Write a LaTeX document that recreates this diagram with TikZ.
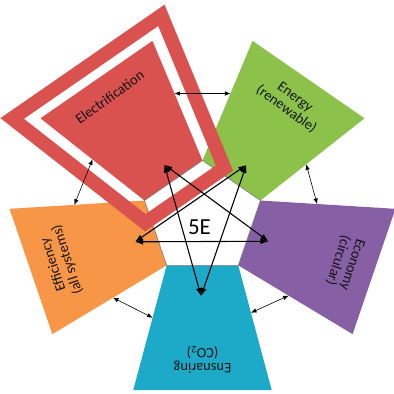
\documentclass[tikz,border=0pt]{standalone}
\usepackage{fontspec}
\setmainfont{Carlito}
\usetikzlibrary{calc}
\usetikzlibrary{arrows.meta}

\definecolor{elecred}{RGB}{217,82,80}
\definecolor{energreen}{RGB}{141,194,74}
\definecolor{econpurple}{RGB}{135,95,165}
\definecolor{ensnteal}{RGB}{28,170,200}
\definecolor{effiorange}{RGB}{247,150,70}

\tikzset{
	sector label/.style={font=\fontsize{14.5}{15}\selectfont,align=center,anchor=north,inner sep=0pt,text=black!92},
	star link/.style={line width=1.1pt,arrows={Latex[length=8pt,width=6pt]-Latex[length=8pt,width=6pt]}},
	ring link/.style={semithick,arrows={Latex[length=5.5pt,width=4.5pt]-Latex[length=5.5pt,width=4.5pt]}},
}

\begin{document}
\begin{tikzpicture}[x=1.035pt,y=0.985pt]
	\useasboundingbox (-196.1,-177.7) rectangle (185.5,222.3);
	\foreach \n/\a/\c/\p/\q in {elec/126/elecred/0.50/0.56,ener/54/energreen/0.56/0.44,econ/-18/econpurple/0.42/0.44,ensn/-90/ensnteal/0.38/0.42,effi/198/effiorange/0.47/0.52} {
		\fill[\c] (\a-36:59) -- (\a-21:187.1) -- (\a+21:187.1) -- (\a+36:59) -- cycle;
		\coordinate (\n-ccw) at ($(\a+36:59)!\p!(\a+21:187.1)$);
		\coordinate (\n-cw) at ($(\a-36:59)!\q!(\a-21:187.1)$);
	}
	\draw[fill=white,draw=black!55,line width=0.6pt] (90:59) -- (162:59) -- (234:59) -- (306:59) -- (18:59) -- cycle;
	\draw[elecred,line width=14pt] (126-58.5:55.5) -- (126-25.1:210.5) -- (126+25.1:210.5) -- (126+58.5:55.5) -- cycle;
	\foreach \n/\p in {elec/{124:66},ener/{52:69},econ/{-20:68},ensn/{-91:79},effi/{200:69.5}}
		\coordinate (\n-tip) at (\p);
	\node[font=\fontsize{23}{26}\selectfont] (five) at (-2.9,-9.1) {5E};
	\foreach \u/\v in {elec/ensn,elec/econ,ener/ensn,ener/effi,effi/econ}
		\draw[star link] (\u-tip) -- (\v-tip);
	\foreach \u/\v in {elec/ener,ener/econ,econ/ensn,ensn/effi,effi/elec}
		\draw[ring link] (\u-cw) -- (\v-ccw);
	\foreach \n/\a/\t in {elec/126/Electrification,ener/54/{Energy\\(renewable)},econ/-18/{Economy\\(circular)},ensn/-90/{Ensnaring\\(CO\textsubscript{2})},effi/198/{Efficiency\\(all systems)}}
		\node[sector label,rotate=\a-90] (\n-label) at (\a:158) {\t};
\end{tikzpicture}
\end{document}
